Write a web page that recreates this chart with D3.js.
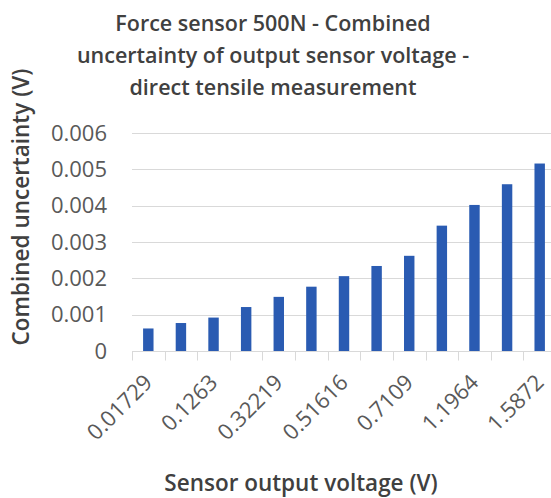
<!DOCTYPE html>
<meta charset="utf-8">
<style>
body { margin: 0; background: #fff; }
.grid line { stroke: #d9d9d9; stroke-width: 1px; }
.bars rect { fill: #2a5bb2; }
.title, .axis-title { font-family: "Open Sans", sans-serif; font-weight: 600; fill: #404040; }
.tick text { font-family: "Open Sans", sans-serif; fill: #595959; }
</style>
<body>
<svg id="chart" width="551" height="498"></svg>

<script src="https://d3js.org/d3.v7.min.js"></script>
<script>

// sensor output voltage categories (only every other label is shown in the chart)
var categories = ["0.01729", "", "0.1263", "", "0.32219", "", "0.51616", "", "0.7109", "", "1.1964", "", "1.5872"];
// combined uncertainty (V)
var uncertainty = [0.00062, 0.00077, 0.00092, 0.00121, 0.00149, 0.00177, 0.00206, 0.00234, 0.00262, 0.00345, 0.00402, 0.00459, 0.00516];
var yTicks = [0, 0.001, 0.002, 0.003, 0.004, 0.005, 0.006];
var titleLines = ["Force sensor 500N - Combined", "uncertainty of output sensor voltage -", "direct tensile measurement"];

var svg = d3.select("#chart");

var plotLeft = 132, plotRight = 556, plotTop = 133, plotBottom = 351;

var x = d3.scaleBand()
  .domain(d3.range(categories.length))
  .range([plotLeft, plotRight])
  .paddingInner(0.68)
  .paddingOuter(0.34);

var y = d3.scaleLinear()
  .domain([0, 0.006])
  .range([plotBottom, plotTop]);

// gridlines
svg.append("g")
  .attr("class", "grid")
  .selectAll("line")
  .data(yTicks.slice(1))
  .enter()
  .append("line")
  .attr("x1", plotLeft)
  .attr("x2", plotRight)
  .attr("y1", d => Math.round(y(d)) + 0.5)
  .attr("y2", d => Math.round(y(d)) + 0.5);

// bars
svg.append("g")
  .attr("class", "bars")
  .selectAll("rect")
  .data(uncertainty)
  .enter()
  .append("rect")
  .attr("x", (d, i) => x(i))
  .attr("width", x.bandwidth())
  .attr("y", d => y(d))
  .attr("height", d => y(0) - y(d));

// x axis
var step = x.step();
var xAxis = svg.append("g")
  .attr("transform", "translate(0," + (Math.round(plotBottom) + 0.5) + ")");
xAxis.append("line")
  .attr("x1", plotLeft).attr("x2", plotRight)
  .attr("stroke", "#d9d9d9");
xAxis.selectAll(".tk")
  .data(d3.range(categories.length + 1))
  .enter()
  .append("line")
  .attr("x1", i => Math.round(plotLeft + i * step) + 0.5)
  .attr("x2", i => Math.round(plotLeft + i * step) + 0.5)
  .attr("y1", 0).attr("y2", 9)
  .attr("stroke", "#d9d9d9");
xAxis.selectAll(".tick")
  .data(categories)
  .enter()
  .append("g")
  .attr("class", "tick")
  .attr("transform", (d, i) => "translate(" + (x(i) + x.bandwidth() / 2) + ",27) rotate(-45)")
  .append("text")
  .attr("text-anchor", "end")
  .attr("dy", "0.35em")
  .style("font-size", "22px")
  .text(d => d);

// y axis labels
svg.append("g")
  .selectAll(".tick")
  .data(yTicks)
  .enter()
  .append("g")
  .attr("class", "tick")
  .append("text")
  .attr("x", 107)
  .attr("y", d => y(d))
  .attr("dy", "0.35em")
  .attr("text-anchor", "end")
  .style("font-size", "22px")
  .text(d => d === 0 ? "0" : d3.format(".3f")(d));

// title
svg.append("g")
  .selectAll("text")
  .data(titleLines)
  .enter()
  .append("text")
  .attr("class", "title")
  .attr("x", 273)
  .attr("y", (d, i) => 31 + i * 32)
  .attr("text-anchor", "middle")
  .style("font-size", "21.5px")
  .text(d => d);

// axis titles
svg.append("text")
  .attr("class", "axis-title")
  .attr("transform", "translate(29,207) rotate(-90)")
  .attr("text-anchor", "middle")
  .style("font-size", "22.5px")
  .text("Combined uncertainty (V)");

svg.append("text")
  .attr("class", "axis-title")
  .attr("x", 301)
  .attr("y", 491)
  .attr("text-anchor", "middle")
  .style("font-size", "22.5px")
  .text("Sensor output voltage (V)");

</script>
</body>
